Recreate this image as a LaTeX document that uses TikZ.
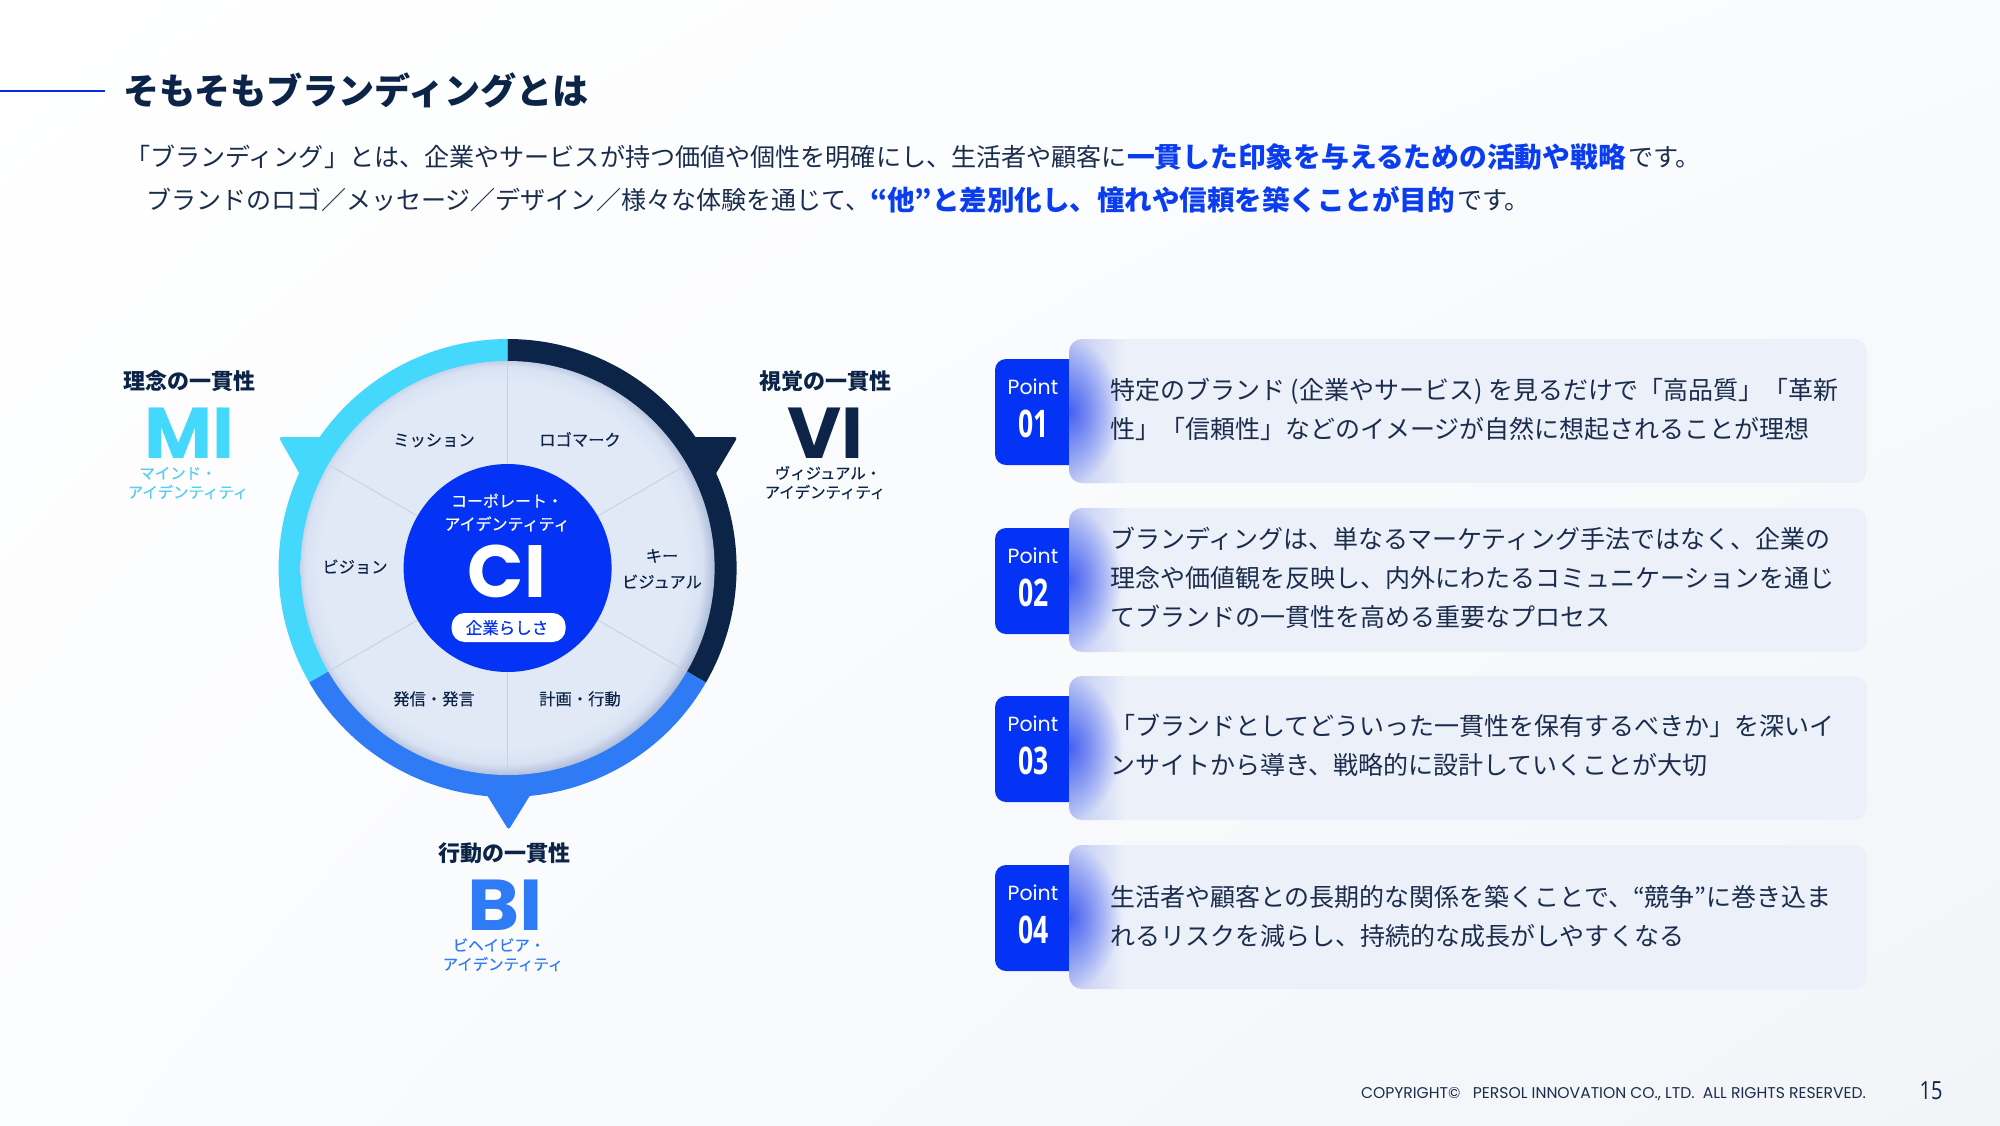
\documentclass[tikz,border=0pt]{standalone}
\usepackage{fontspec}
\usetikzlibrary{fadings,shadings}
\setmainfont{Noto Sans CJK JP}
\newfontfamily\jp{Noto Sans CJK JP}
\newfontfamily\jpm[FakeBold=0.3]{Noto Sans CJK JP}
\newfontfamily\pop{Poppins}
\newfontfamily\ops{Open Sans}
\definecolor{navy}{HTML}{0B2447}
\definecolor{bodyc}{HTML}{1B2D4D}
\definecolor{royal}{HTML}{0533F5}
\definecolor{hi}{HTML}{0A3CF0}
\definecolor{cyanc}{HTML}{45D8FD}
\definecolor{cyant}{HTML}{55CDF0}
\definecolor{bluec}{HTML}{2F7BF6}
\definecolor{cardc}{HTML}{ECF0F9}
\definecolor{glowc}{HTML}{3A55F0}
\definecolor{edgec}{HTML}{BCC8F4}
\definecolor{divc}{HTML}{C9D2E3}
\definecolor{bgA}{HTML}{FFFFFF}
\definecolor{bgB}{HTML}{F9FBFD}
\definecolor{bgC}{HTML}{FBFCFE}
\definecolor{bgD}{HTML}{F2F4F8}
\definecolor{diskA}{HTML}{E1E9F6}
\definecolor{diskB}{HTML}{D8E2F3}
\definecolor{diskC}{HTML}{B6C3DE}
\definecolor{diskD}{HTML}{8E9AB2}
\pgfdeclareradialshading{diskshade}{\pgfpoint{-0.9bp}{0.6bp}}{
 color(0bp)=(diskA); color(22bp)=(diskA); color(24bp)=(diskB); color(25.2bp)=(diskC); color(26.2bp)=(diskD); color(50bp)=(diskD)}
\tikzfading[name=glow,inner color=transparent!0,outer color=transparent!100]
\newcommand{\fs}[1]{\fontsize{#1pt}{#1pt}\selectfont}
\newcommand{\fitw}[2]{\resizebox{#1pt}{!}{#2}}
\tikzset{
 txt/.style={inner sep=0pt,outer sep=0pt,anchor=base},
 txtl/.style={inner sep=0pt,outer sep=0pt,anchor=base west},
 seg/.style={txt,font=\jpm\fs{16.3},text=navy,align=center},
 headl/.style={txt,font=\jp\bfseries\fs{22},text=navy},
 big/.style={txt,font=\pop\bfseries\fs{72}},
 subl/.style={txt,font=\jpm\fs{15.4}},
 body/.style={txtl,font=\jp\fs{24.5},text=bodyc},
 strong/.style={txtl,font=\jp\bfseries\fs{27.8},text=hi},
 cardl/.style={txtl,font=\jp\fs{25},text=bodyc},
 x=1pt,y=-1pt
}
\newcommand{\card}[2]{%
 \fill[royal,rounded corners=11pt] (995,#1+20) -- (1085,#1+20) -- (1085,#1+126) -- (995,#1+126) -- cycle;
 \begin{scope}
  \path[clip,rounded corners=13pt] (1069,#1) rectangle (1867,#1+144);
  \fill[cardc] (1069,#1) rectangle (1867,#1+144);
  \shade[left color=edgec,right color=cardc] (1069,#1) rectangle (1125,#1+144);
  \fill[glowc,path fading=glow,fit fading=true,fill opacity=0.9] (1069,#1+72) ellipse [x radius=52,y radius=72];
 \end{scope}
 \node[txt,font=\pop\fs{20.5},text=white] (pt#2) at (1033,#1+55) {Point};
 \node[txt,text=white] (nm#2) at (1033.5,#1+98) {\scalebox{0.7}[1]{\ops\bfseries\fs{38}#2}};
}
\begin{document}
\begin{tikzpicture}
\useasboundingbox (0,0) rectangle (2000,1125);
\shade[upper left=bgA,upper right=bgB,lower left=bgC,lower right=bgD] (0,0) rectangle (2000,1125);
% header
\draw[royal!90!black,line width=2pt] (0,91) -- (105,91);
\node[txtl,font=\jp\bfseries\fs{36},text=navy] (title) at (123,104) {\fitw{466}{そもそもブランディングとは}};
\node[body] (l1a) at (125,166) {\fitw{1002}{「ブランディング」とは、企業やサービスが持つ価値や個性を明確にし、生活者や顧客に}};
\node[strong] (l1b) at (1127,167) {\fitw{499}{一貫した印象を与えるための活動や戦略}};
\node[body] (l1c) at (1628,166) {\fitw{73}{です。}};
\node[body] (l2a) at (146,209) {\fitw{724}{ブランドのロゴ／メッセージ／デザイン／様々な体験を通じて、}};
\node[strong] (l2b) at (870,210) {\fitw{585}{“他”と差別化し、憧れや信頼を築くことが目的}};
\node[body] (l2c) at (1457,209) {\fitw{73}{です。}};
% wheel
\begin{scope}[shift={(507.6,568)}]
 \fill[cyanc,rounded corners=3pt] (-229,-131) -- (-176,-131) -- (-201,-82) -- cycle;
 \fill[navy,rounded corners=3pt] (230,-131) -- (176,-131) -- (201,-82) -- cycle;
 \fill[bluec,rounded corners=3pt] (1,262) -- (-25,220) -- (27,220) -- cycle;
 \fill[cyanc] (150:229) arc [start angle=150,end angle=270,radius=229] -- (270:200) arc [start angle=270,end angle=150,radius=200] -- cycle;
 \fill[navy] (-90:229) arc [start angle=-90,end angle=30,radius=229] -- (30:200) arc [start angle=30,end angle=-90,radius=200] -- cycle;
 \fill[bluec] (30:229) arc [start angle=30,end angle=150,radius=229] -- (150:200) arc [start angle=150,end angle=30,radius=200] -- cycle;
 \shade[shading=diskshade] (0,0) circle [radius=207];
 \foreach \a in {-90,-30,30,90,150,210}{\draw[divc,line width=1pt] (\a:104) -- (\a:204);}
 \fill[royal] (0,0) circle [radius=104];
 \fill[white,rounded corners=13pt] (-56,45) rectangle (58,74);
\end{scope}
% centre
\node[txt,font=\jpm\fs{16},text=white] (cia) at (507,507) {コーポレート・};
\node[txt,font=\jpm\fs{16},text=white] (cib) at (507,530) {アイデンティティ};
\node[big,text=white,font=\pop\bfseries\fs{74}] (ci) at (507,597) {CI};
\node[txt,font=\jpm\fs{16.5},text=royal] (cic) at (507,634) {企業らしさ};
% segments
\node[seg] (s1) at (434,446) {ミッション};
\node[seg] (s2) at (580,446) {ロゴマーク};
\node[seg] (s3) at (355,573) {ビジョン};
\node[seg] (s4) at (662,562) {キー};
\node[seg] (s5) at (662,588) {ビジュアル};
\node[seg] (s6) at (434,705) {発信・発言};
\node[seg] (s7) at (580,705) {計画・行動};
% outer labels
\node[headl] (mh) at (189,389) {理念の一貫性};
\node[big,text=cyanc] (mi) at (189,458) {\scalebox{1.03}[1]{MI}};
\node[subl,text=cyant] (ma) at (178,479) {マインド・};
\node[subl,text=cyant] (mb) at (188,498) {アイデンティティ};
\node[headl] (vh) at (825,389) {視覚の一貫性};
\node[big,text=navy] (vi) at (825,458) {\scalebox{1.03}[1]{VI}};
\node[subl,text=navy] (va) at (828,479) {ヴィジュアル・};
\node[subl,text=navy] (vb) at (825,498) {アイデンティティ};
\node[headl] (bh) at (504,861) {行動の一貫性};
\node[big,text=bluec] (bi) at (505,930) {\scalebox{1.1}[1]{BI}};
\node[subl,text=bluec] (ba) at (499,951) {ビヘイビア・};
\node[subl,text=bluec] (bb) at (503,970) {アイデンティティ};
% cards
\card{339}{01}
\card{508}{02}
\card{676}{03}
\card{845}{04}
\node[cardl] (c1a) at (1110,399) {特定のブランド (企業やサービス) を見るだけで「高品質」「革新};
\node[cardl] (c1b) at (1110,438) {性」「信頼性」などのイメージが自然に想起されることが理想};
\node[cardl] (c2a) at (1110,548) {ブランディングは、単なるマーケティング手法ではなく、企業の};
\node[cardl] (c2b) at (1110,587) {理念や価値観を反映し、内外にわたるコミュニケーションを通じ};
\node[cardl] (c2c) at (1110,626) {てブランドの一貫性を高める重要なプロセス};
\node[cardl] (c3a) at (1110,735) {「ブランドとしてどういった一貫性を保有するべきか」を深いイ};
\node[cardl] (c3b) at (1110,774) {ンサイトから導き、戦略的に設計していくことが大切};
\node[cardl] (c4a) at (1110,906) {生活者や顧客との長期的な関係を築くことで、“競争”に巻き込ま};
\node[cardl] (c4b) at (1110,945) {れるリスクを減らし、持続的な成長がしやすくなる};
% footer
\node[txtl,font=\pop\fs{14},text=bodyc] (cp) at (1361,1098) {\fitw{505}{COPYRIGHT©\ \ \ PERSOL INNOVATION CO., LTD.\ \ ALL RIGHTS RESERVED.}};
\node[txt,text=navy] (pg) at (1931,1099) {\scalebox{0.8}[1]{\ops\fs{25}15}};
\end{tikzpicture}
\end{document}
